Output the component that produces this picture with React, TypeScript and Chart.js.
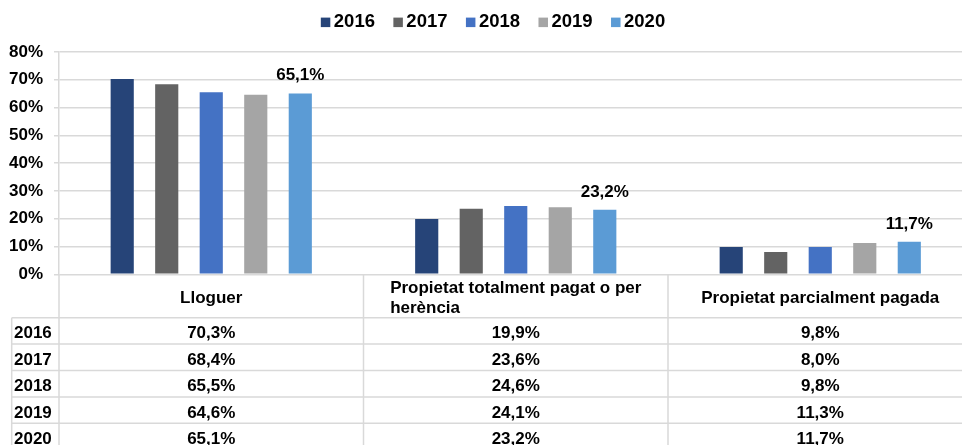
import React, { useEffect, useRef } from 'react';
import { Chart, registerables } from 'chart.js';

Chart.register(...registerables);

const categories: (string | string[])[] = [
  'Lloguer',
  ['Propietat totalment pagat o per', 'herència'],
  'Propietat parcialment pagada',
];
const years = ['2016', '2017', '2018', '2019', '2020'];
const values2016 = [70.3, 19.9, 9.8];
const values2017 = [68.4, 23.6, 8.0];
const values2018 = [65.5, 24.6, 9.8];
const values2019 = [64.6, 24.1, 11.3];
const values2020 = [65.1, 23.2, 11.7];
const seriesValues = [values2016, values2017, values2018, values2019, values2020];
const colors = ['#264478', '#636363', '#4472C4', '#A5A5A5', '#5B9BD5'];
const yTicks = [0, 10, 20, 30, 40, 50, 60, 70, 80];
const labeledSeries = [4];

const FONT = '"Liberation Sans", Arial, Helvetica, sans-serif';
const LINE = '#d9d9d9';
const fmt = (v: number) => v.toFixed(1).replace('.', ',') + '%';

const legendPlugin = {
  id: 'customLegend',
  afterDraw(chart: any) {
    const ctx = chart.ctx as CanvasRenderingContext2D;
    ctx.save();
    ctx.font = `bold 18.5px ${FONT}`;
    const items = chart.data.datasets.map((ds: any) => ({
      text: ds.label as string,
      color: ds.backgroundColor as string,
      w: ctx.measureText(ds.label).width,
    }));
    const boxW = 9.5;
    const boxGap = 3.5;
    const itemGap = 18.4;
    const total =
      items.reduce((a: number, it: any) => a + boxW + boxGap + it.w, 0) +
      itemGap * (items.length - 1);
    let x = chart.width / 2 + 5.5 - total / 2;
    const baseline = 27.3;
    ctx.textAlign = 'left';
    ctx.textBaseline = 'alphabetic';
    items.forEach((it: any) => {
      ctx.fillStyle = it.color;
      ctx.fillRect(x, 17.6, boxW, boxW);
      ctx.fillStyle = '#000';
      ctx.fillText(it.text, x + boxW + boxGap, baseline);
      x += boxW + boxGap + it.w + itemGap;
    });
    ctx.restore();
  },
};

const dataLabelPlugin = {
  id: 'dataLabels',
  afterDatasetsDraw(chart: any) {
    const ctx = chart.ctx as CanvasRenderingContext2D;
    ctx.save();
    ctx.font = `bold 17px ${FONT}`;
    ctx.fillStyle = '#000';
    ctx.textAlign = 'center';
    ctx.textBaseline = 'alphabetic';
    labeledSeries.forEach((di) => {
      const meta = chart.getDatasetMeta(di);
      const data = chart.data.datasets[di].data as number[];
      meta.data.forEach((el: any, i: number) => {
        ctx.fillText(fmt(data[i]), el.x, el.y - 13);
      });
    });
    ctx.restore();
  },
};

const tablePlugin = {
  id: 'dataTable',
  afterDraw(chart: any) {
    const ctx = chart.ctx as CanvasRenderingContext2D;
    const area = chart.chartArea;
    const xScale = chart.scales.x;
    const labels = chart.data.labels as (string | string[])[];
    const n = labels.length;
    const colW = (area.right - area.left) / n;
    const top = area.bottom;
    const headerH = 43.4;
    const rowH = 26.4;
    const bottom = chart.height;
    const tableLeft = 11.7;
    const datasets = chart.data.datasets;

    ctx.save();
    ctx.strokeStyle = LINE;
    ctx.lineWidth = 1.5;
    ctx.beginPath();
    for (let i = 0; i <= n; i++) {
      const x = i < n ? xScale.getPixelForValue(i) - colW / 2 : xScale.getPixelForValue(n - 1) + colW / 2;
      ctx.moveTo(x, top);
      ctx.lineTo(x, bottom);
    }
    for (let r = 0; r <= datasets.length; r++) {
      const y = top + headerH + r * rowH;
      ctx.moveTo(tableLeft, y);
      ctx.lineTo(area.right, y);
    }
    ctx.moveTo(tableLeft, top + headerH);
    ctx.lineTo(tableLeft, bottom);
    ctx.stroke();

    ctx.fillStyle = '#000';
    ctx.font = `bold 17px ${FONT}`;
    ctx.textBaseline = 'alphabetic';

    // header
    labels.forEach((lab, i) => {
      const cx = xScale.getPixelForValue(i);
      if (Array.isArray(lab)) {
        const w0 = ctx.measureText(lab[0]).width;
        const startX = cx - w0 / 2;
        ctx.textAlign = 'left';
        lab.forEach((line, li) => {
          ctx.fillText(line, startX, top + 19 + li * 19.7);
        });
      } else {
        ctx.textAlign = 'center';
        ctx.fillText(lab, cx, top + 28.4);
      }
    });

    // rows
    datasets.forEach((ds: any, r: number) => {
      const rowTop = top + headerH + r * rowH;
      const base = rowTop + 20.6;
      ctx.textAlign = 'left';
      ctx.fillText(ds.label, 14, base);
      ctx.textAlign = 'center';
      (ds.data as number[]).forEach((v, i) => {
        ctx.fillText(fmt(v), xScale.getPixelForValue(i), base);
      });
    });
    ctx.restore();
  },
};

export default function App() {
  const ref = useRef<HTMLCanvasElement | null>(null);

  useEffect(() => {
    if (!ref.current) return;
    const chart = new Chart(ref.current, {
      type: 'bar',
      data: {
        labels: categories as any,
        datasets: years.map((y, i) => ({
          label: y,
          data: seriesValues[i],
          backgroundColor: colors[i],
          borderWidth: 0,
          categoryPercentage: 0.731,
          barPercentage: 0.52,
        })),
      },
      options: {
        responsive: false,
        devicePixelRatio: 1,
        animation: false,
        layout: { padding: { left: 9, right: 2.5, top: 52, bottom: 170.7 } },
        plugins: {
          legend: { display: false },
          tooltip: { enabled: false },
        },
        scales: {
          x: { display: false },
          y: {
            min: 0,
            max: 80,
            afterBuildTicks: (s: any) => {
              s.ticks = yTicks.map((v) => ({ value: v }));
            },
            afterFit: (s: any) => {
              s.width = 50;
            },
            ticks: {
              callback: (v: any) => v + '%',
              font: { family: FONT, size: 17, weight: 'bold' },
              color: '#000',
              padding: 11,
            },
            grid: { color: LINE, lineWidth: 1.5, tickLength: 5, drawTicks: true },
            border: { color: LINE, width: 1.5 },
          },
        },
      },
      plugins: [legendPlugin, dataLabelPlugin, tablePlugin],
    });
    return () => chart.destroy();
  }, []);

  return (
    <div
      style={{
        position: 'fixed',
        left: 0,
        top: 0,
        width: 962,
        height: 445,
        overflow: 'hidden',
        background: '#fff',
      }}
    >
      <canvas ref={ref} width={975} height={445} style={{ display: 'block', width: 975, height: 445 }} />
    </div>
  );
}
